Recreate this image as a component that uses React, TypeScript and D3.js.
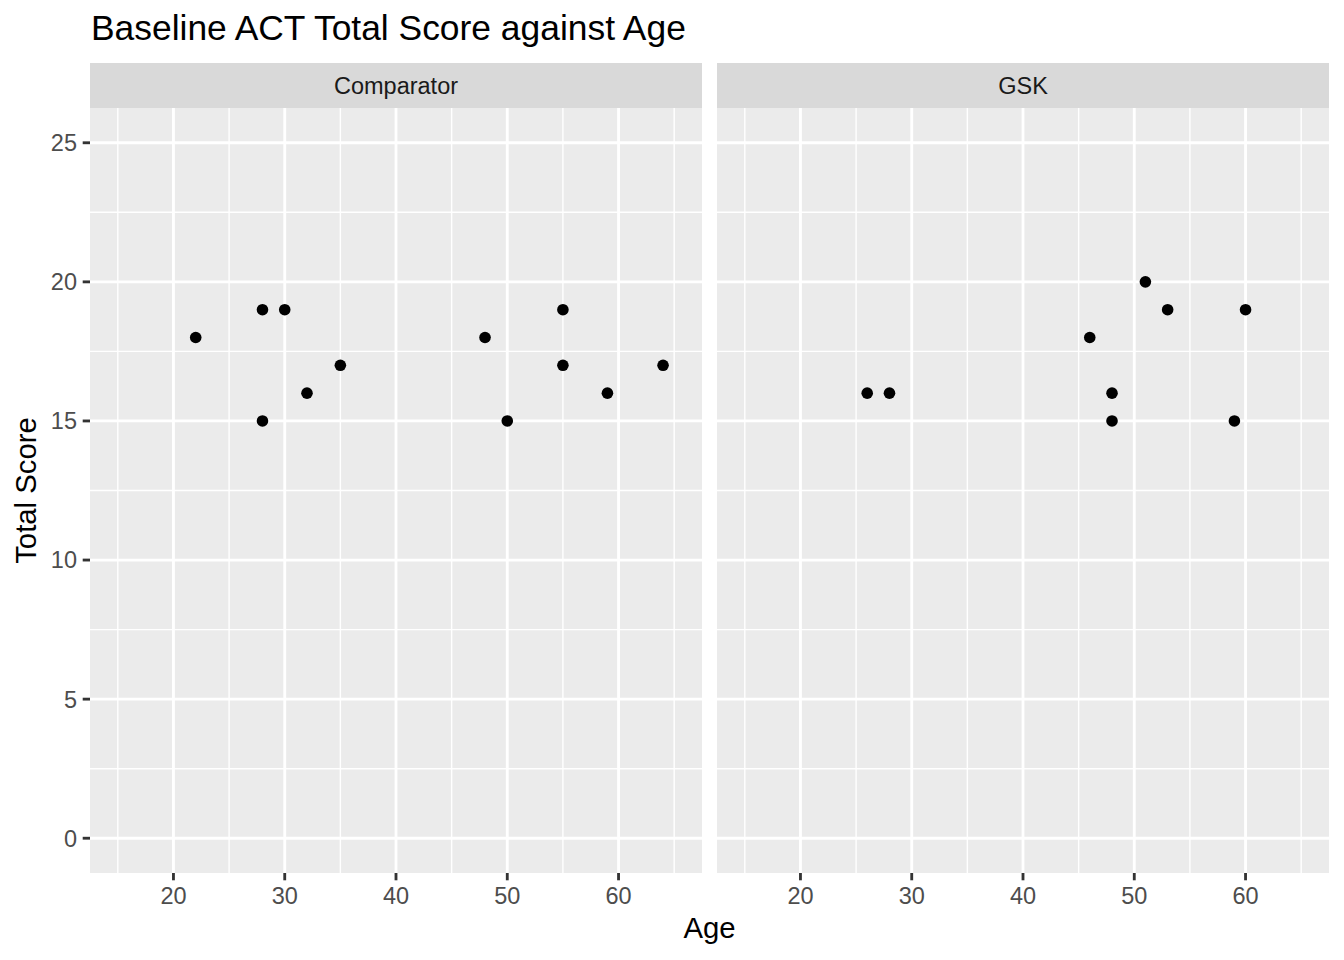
import React from "react";
import * as d3 from "d3";

const panels = ["Comparator", "GSK"];
const compAge = [22, 28, 30, 28, 32, 35, 48, 50, 55, 55, 59, 64];
const compScore = [18, 19, 19, 15, 16, 17, 18, 15, 19, 17, 16, 17];
const gskAge = [26, 28, 46, 48, 48, 51, 53, 60, 59];
const gskScore = [16, 16, 18, 16, 15, 20, 19, 19, 15];
const xTicks = [20, 30, 40, 50, 60];
const xMinor = [15, 25, 35, 45, 55, 65];
const yTicks = [0, 5, 10, 15, 20, 25];
const yMinor = [2.5, 7.5, 12.5, 17.5, 22.5];

const W = 1344, H = 960;
const panelX = [90, 717];
const panelW = 612;
const top = 108, bottom = 873;
const stripTop = 63;

export default function App() {
  const y = d3.scaleLinear().domain([-1.25, 26.25]).range([bottom, top]);
  const font = "'Liberation Sans', Arial, Helvetica, sans-serif";
  const data = [
    compAge.map((a, i) => ({ x: a, y: compScore[i] })),
    gskAge.map((a, i) => ({ x: a, y: gskScore[i] })),
  ];
  return (
    <svg width={W} height={H} style={{ display: "block", position: "absolute", left: 0, top: 0 }} fontFamily={font}>
      <rect width={W} height={H} fill="#fff" />
      <text x={91} y={40} fontSize={35.4} fill="#000">Baseline ACT Total Score against Age</text>
      {panels.map((p, pi) => {
        const x0 = panelX[pi];
        const x = d3.scaleLinear().domain([12.5, 67.5]).range([x0, x0 + panelW]);
        return (
          <g key={p}>
            <rect x={x0} y={stripTop} width={panelW} height={top - stripTop} fill="#D9D9D9" />
            <text x={x0 + panelW / 2} y={94} textAnchor="middle" fontSize={23.5} fill="#1A1A1A">{p}</text>
            <rect x={x0} y={top} width={panelW} height={bottom - top} fill="#EBEBEB" />
            {xMinor.map(v => <line key={"xm" + v} x1={x(v)} x2={x(v)} y1={top} y2={bottom} stroke="#fff" strokeWidth={1.42} />)}
            {yMinor.map(v => <line key={"ym" + v} x1={x0} x2={x0 + panelW} y1={y(v)} y2={y(v)} stroke="#fff" strokeWidth={1.42} />)}
            {xTicks.map(v => <line key={"x" + v} x1={x(v)} x2={x(v)} y1={top} y2={bottom} stroke="#fff" strokeWidth={2.84} />)}
            {yTicks.map(v => <line key={"y" + v} x1={x0} x2={x0 + panelW} y1={y(v)} y2={y(v)} stroke="#fff" strokeWidth={2.84} />)}
            {data[pi].map((d, i) => <circle key={i} cx={x(d.x)} cy={y(d.y)} r={5.8} fill="#000" />)}
            {xTicks.map(v => (
              <g key={"xt" + v}>
                <line x1={x(v)} x2={x(v)} y1={bottom} y2={bottom + 7.3} stroke="#333" strokeWidth={2.84} />
                <text x={x(v)} y={904} textAnchor="middle" fontSize={23.5} fill="#4D4D4D">{v}</text>
              </g>
            ))}
          </g>
        );
      })}
      {yTicks.map(v => (
        <g key={"yt" + v}>
          <line x1={82.7} x2={90} y1={y(v)} y2={y(v)} stroke="#333" strokeWidth={2.84} />
          <text x={77} y={y(v) + 8.4} textAnchor="end" fontSize={23.5} fill="#4D4D4D">{v}</text>
        </g>
      ))}
      <text x={(90 + 1329) / 2} y={938} textAnchor="middle" fontSize={29.3} fill="#000">Age</text>
      <text transform={`translate(36, ${(top + bottom) / 2}) rotate(-90)`} textAnchor="middle" fontSize={29.3} fill="#000">Total Score</text>
    </svg>
  );
}
